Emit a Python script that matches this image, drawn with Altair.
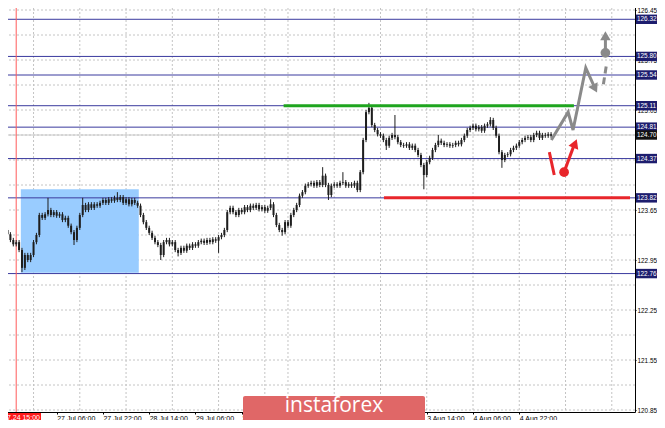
import altair as alt
import pandas as pd

# ---------------- data ----------------
K0 = -18  # bar index of first candle (0 = 27 Jul 06:00, H1 bars)
first_open = 123.40
closes = [
    123.37, 123.31, 123.23, 123.17, 123.20, 123.09, 122.84, 123.02, 122.95, 123.02,
    123.20, 123.30, 123.58, 123.54, 123.59, 123.65, 123.58, 123.62,
    123.57, 123.59, 123.51, 123.54, 123.43, 123.34, 123.23, 123.40, 123.58, 123.72,
    123.65, 123.73, 123.68, 123.73, 123.71, 123.75, 123.79, 123.75, 123.80, 123.78,
    123.82, 123.79, 123.83, 123.75, 123.80, 123.73, 123.79, 123.75, 123.71, 123.58,
    123.48, 123.40, 123.33, 123.26, 123.20, 123.16, 123.02, 123.20, 123.23, 123.17,
    123.20, 123.09, 123.05, 123.12, 123.08, 123.15, 123.12, 123.17, 123.15, 123.20,
    123.22, 123.19, 123.23, 123.20, 123.24, 123.22, 123.27, 123.30, 123.37, 123.62,
    123.68, 123.62, 123.58, 123.65, 123.62, 123.69, 123.65, 123.71, 123.68, 123.72,
    123.66, 123.69, 123.64, 123.68, 123.73, 123.58, 123.44, 123.37, 123.34, 123.48,
    123.43, 123.58, 123.65, 123.72, 123.85, 123.90, 123.99, 124.01, 124.03, 123.99,
    124.04, 124.00, 124.13, 124.00, 123.86, 123.99, 124.01, 123.99, 124.03, 124.04,
    123.99, 124.01, 123.99, 124.03, 123.93, 124.18, 124.63, 125.02, 125.08, 124.84,
    124.77, 124.71, 124.69, 124.63, 124.55, 124.66, 124.70, 124.67, 124.60, 124.56,
    124.55, 124.57, 124.52, 124.55, 124.49, 124.42, 124.28, 124.14, 124.32, 124.38,
    124.49, 124.56, 124.62, 124.59, 124.56, 124.57, 124.55, 124.56, 124.59, 124.57,
    124.63, 124.69, 124.77, 124.80, 124.83, 124.78, 124.81, 124.76, 124.83, 124.85,
    124.91, 124.80, 124.69, 124.46, 124.35, 124.42, 124.43, 124.49, 124.52, 124.55,
    124.60, 124.63, 124.66, 124.67, 124.63, 124.70, 124.73, 124.66, 124.70, 124.69,
    124.71, 124.69,
]
spike_highs = {-3: 123.82, 9: 123.82, 21: 123.90, 74: 123.80, 92: 124.25, 99: 124.18,
               108: 125.15, 117: 124.98, 132: 124.70, 150: 124.95}
spike_lows = {-12: 122.78, -9: 122.92, 6: 123.16, 36: 122.95, 42: 123.00, 56: 123.05,
              78: 123.29, 94: 123.79, 114: 124.49, 127: 123.94, 154: 124.24}
WICK = 0.03

tick_ks = [0, 16, 32, 48, 64, 128, 144, 160]
tick_labels = ["27 Jul 06:00", "27 Jul 22:00", "28 Jul 14:00", "29 Jul 06:00",
               "29 Jul 22:00", "3 Aug 14:00", "4 Aug 06:00", "4 Aug 22:00"]
grid_ks = [-8, 8, 24, 40, 56, 72, 80, 96, 112, 128, 144, 160, 176, 192]
y_ticks = [126.45, 126.10, 125.75, 125.40, 125.05, 124.70, 124.35, 124.00, 123.65,
           123.30, 122.95, 122.60, 122.25, 121.90, 121.55, 121.20, 120.85]
y_hidden = [124.70, 124.35]  # covered by level boxes in the reference

levels = [126.32, 125.80, 125.54, 125.11, 124.81, 124.37, 123.82, 122.76]
current_price = 124.70
marker_k = -14  # 2020.07.24 15:00

box_k = [-12.4, 28.4]
box_p = [122.77, 123.94]

seg_names = ["green", "red"]
seg_k1 = [78.5, 113.2]
seg_k2 = [178.9, 198.3]
seg_p = [125.11, 123.82]
seg_colors = ["#1fa51f", "#e8262b"]

# forecast sketch (bar index, price)
gray_path_k = [171.1, 176.9, 178.6, 183.0, 185.9]
gray_path_p = [124.63, 125.02, 124.77, 125.64, 125.38]
gray_dash_k = [189.1, 190.1]
gray_dash_p = [125.41, 125.67]
gray_up_k = [189.8, 189.8]
gray_up_p = [125.88, 126.05]
red_slash_k = [170.4, 172.1]
red_slash_p = [124.46, 124.14]
red_up_k = [175.5, 178.7]
red_up_p = [124.18, 124.53]
dots_k = [189.8, 175.5]
dots_p = [125.85, 124.18]
dots_c = ["#8a8a8a", "#e8262b"]
heads_k = [186.2, 189.8, 179.3]
heads_p = [125.35, 126.09, 124.58]
heads_ang = [153, 0, 22]
heads_c = ["#8a8a8a", "#8a8a8a", "#e8262b"]

# ---------------- tables ----------------
rows = []
prev = first_open
for i, c in enumerate(closes):
    k = K0 + i
    o = prev
    rows.append(dict(k=k, o=o, c=c,
                     hi=spike_highs.get(k, max(o, c) + WICK),
                     lo=spike_lows.get(k, min(o, c) - WICK)))
    prev = c
candles = pd.DataFrame(rows)

# plot area placed at page (0,0) via negative padding (page has 8px margin)
W, H = 635, 412
xs = alt.Scale(domain=[-17.872, 198.30], nice=False, zero=False)
ys = alt.Scale(domain=[120.822, 126.590], nice=False, zero=False)
FONT = "Liberation Sans"
YFS = 6.4

expr = ""
for kk, lab in zip(tick_ks, tick_labels):
    expr += f"datum.value == {kk} ? '{lab}' : "
expr += "''"

y_label_vals = [v for v in y_ticks if v not in y_hidden]

vgrid = alt.Chart(pd.DataFrame({"k": grid_ks})).mark_rule(
    color="#c4c4c4", strokeDash=[2, 2], strokeWidth=1
).encode(x=alt.X("k:Q", scale=xs, axis=alt.Axis(
    values=tick_ks, labelExpr=expr, orient="bottom", grid=False, title=None,
    domainColor="black", domainWidth=1, tickColor="black", tickSize=2,
    labelAlign="left", labelBaseline="top", labelFont=FONT, labelFontSize=7,
    labelColor="black", labelPadding=0, labelOverlap=False, labelFlush=False,
    zindex=0)))

hgrid = alt.Chart(pd.DataFrame({"p": y_ticks})).mark_rule(
    color="#c4c4c4", strokeDash=[2, 2], strokeWidth=1
).encode(y=alt.Y("p:Q", scale=ys, axis=alt.Axis(
    values=y_label_vals, format=".2f", orient="right", grid=False, title=None,
    domainColor="black", domainWidth=1, tickColor="black", tickSize=1,
    labelFont=FONT, labelFontSize=YFS, labelColor="black", labelPadding=1,
    labelBaseline="middle", labelOverlap=False, labelFlush=False, zindex=0)))

rect = alt.Chart(pd.DataFrame({"k1": [box_k[0]], "k2": [box_k[1]],
                               "p1": [box_p[0]], "p2": [box_p[1]]})).mark_rect(
    color="#99ccff").encode(
    x=alt.X("k1:Q", scale=xs), x2="k2:Q",
    y=alt.Y("p1:Q", scale=ys), y2="p2:Q")

lvl = alt.Chart(pd.DataFrame({"p": levels})).mark_rule(
    color="#3a3a9e", strokeWidth=1).encode(y=alt.Y("p:Q", scale=ys))

cur = alt.Chart(pd.DataFrame({"p": [current_price]})).mark_rule(
    color="#c8c8c8", strokeWidth=1).encode(y=alt.Y("p:Q", scale=ys))

vline = alt.Chart(pd.DataFrame({"k": [marker_k]})).mark_rule(
    color="#ff5a5a", strokeWidth=1).encode(x=alt.X("k:Q", scale=xs))

wick = alt.Chart(candles).mark_rule(color="#1e1e1e", strokeWidth=1, clip=True).encode(
    x=alt.X("k:Q", scale=xs), y=alt.Y("lo:Q", scale=ys), y2="hi:Q")
body = alt.Chart(candles).mark_bar(size=2, color="#1e1e1e", clip=True).encode(
    x=alt.X("k:Q", scale=xs), y=alt.Y("o:Q", scale=ys), y2="c:Q")

segs = alt.Chart(pd.DataFrame({"name": seg_names, "k1": seg_k1, "k2": seg_k2,
                               "p": seg_p, "col": seg_colors})).mark_rule(
    strokeWidth=3).encode(
    x=alt.X("k1:Q", scale=xs), x2="k2:Q", y=alt.Y("p:Q", scale=ys),
    color=alt.Color("col:N", scale=None))

def path_df(ks, ps, name):
    return pd.DataFrame({"k": ks, "p": ps, "seg": [name] * len(ks),
                         "i": list(range(len(ks)))})

gray_df = pd.concat([path_df(gray_path_k, gray_path_p, "g1"),
                     path_df(gray_up_k, gray_up_p, "g2")])
gray = alt.Chart(gray_df).mark_line(color="#8a8a8a", strokeWidth=3).encode(
    x=alt.X("k:Q", scale=xs), y=alt.Y("p:Q", scale=ys), detail="seg:N", order="i:Q")
gdash = alt.Chart(path_df(gray_dash_k, gray_dash_p, "g3")).mark_line(
    color="#8a8a8a", strokeWidth=3, strokeDash=[7, 4]).encode(
    x=alt.X("k:Q", scale=xs), y=alt.Y("p:Q", scale=ys), order="i:Q")
red_df = pd.concat([path_df(red_slash_k, red_slash_p, "r1"),
                    path_df(red_up_k, red_up_p, "r2")])
red = alt.Chart(red_df).mark_line(color="#e8262b", strokeWidth=3).encode(
    x=alt.X("k:Q", scale=xs), y=alt.Y("p:Q", scale=ys), detail="seg:N", order="i:Q")
dots = alt.Chart(pd.DataFrame({"k": dots_k, "p": dots_p, "col": dots_c})).mark_point(
    filled=True, shape="circle", size=95, opacity=1).encode(
    x=alt.X("k:Q", scale=xs), y=alt.Y("p:Q", scale=ys),
    color=alt.Color("col:N", scale=None))
heads = alt.Chart(pd.DataFrame({"k": heads_k, "p": heads_p, "a": heads_ang,
                                "col": heads_c})).mark_point(
    filled=True, shape="triangle-up", size=110, opacity=1).encode(
    x=alt.X("k:Q", scale=xs), y=alt.Y("p:Q", scale=ys),
    angle=alt.Angle("a:Q", scale=None),
    color=alt.Color("col:N", scale=None))

one = pd.DataFrame({"a": [0]})
wm_box = alt.Chart(one).mark_rect(color="#e06767", cornerRadius=2).encode(
    x=alt.value(243), x2=alt.value(425), y=alt.value(396), y2=alt.value(430))
wm_txt = alt.Chart(one).mark_text(text="instaforex", font="Open Sans", fontSize=21,
                                  color="white", baseline="middle").encode(
    x=alt.value(334), y=alt.value(406))

tl_box = alt.Chart(one).mark_rect(color="#ff1a1a").encode(
    x=alt.value(0), x2=alt.value(41), y=alt.value(413), y2=alt.value(425))
tl_txt = alt.Chart(one).mark_text(text="2020.07.24 15:00", font=FONT, fontSize=7,
                                  color="white", align="right", baseline="top").encode(
    x=alt.value(40), y=alt.value(414))

lab_df = pd.DataFrame({"p": levels + [current_price],
                       "col": ["#1d1d6e"] * len(levels) + ["#111111"]})
lab_df["t"] = [f"{v:.2f}" for v in lab_df["p"]]
lab_box = alt.Chart(lab_df).transform_calculate(
    lo="datum.p - 0.066", hi="datum.p + 0.066").mark_rect().encode(
    x=alt.value(636), x2=alt.value(657),
    y=alt.Y("lo:Q", scale=ys), y2="hi:Q",
    color=alt.Color("col:N", scale=None))
lab_txt = alt.Chart(lab_df).mark_text(font=FONT, fontSize=YFS, color="white",
                                      align="left", baseline="middle").encode(
    x=alt.value(637), y=alt.Y("p:Q", scale=ys), text="t:N")

chart = alt.layer(
    vgrid, hgrid, rect, lvl, cur, vline, wick, body, segs,
    gray, gdash, red, dots, heads, wm_box, wm_txt, tl_box, tl_txt, lab_box, lab_txt
).properties(
    width=W, height=H,
    autosize=alt.AutoSizeParams(type="none"),
    padding={"left": -8, "top": -8, "right": 22, "bottom": 8},
    background="white",
).configure_view(stroke=None)

chart.save("out.html", embed_options={"renderer": "svg", "actions": False})
